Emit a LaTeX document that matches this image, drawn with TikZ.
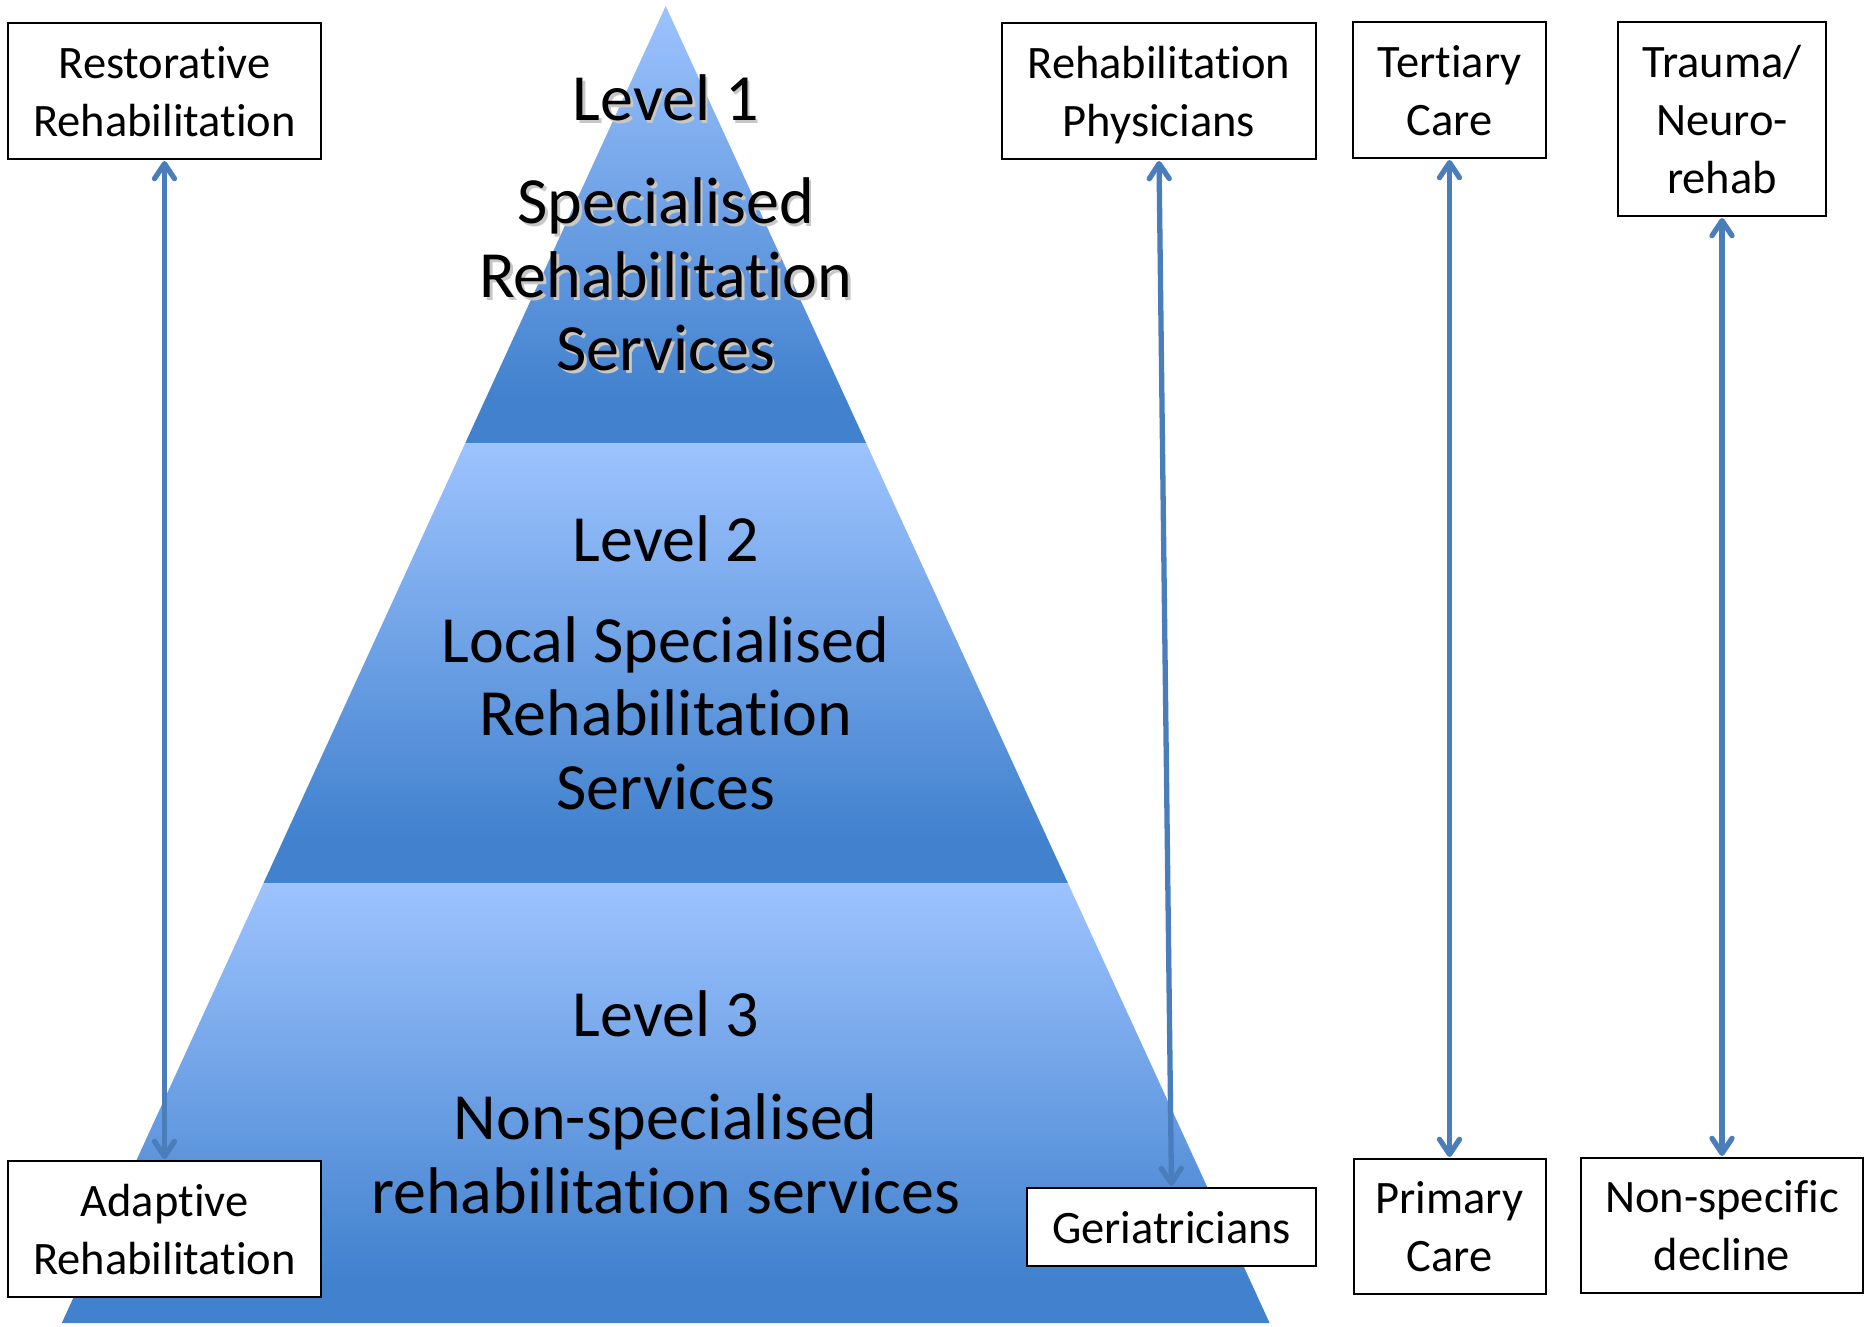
\documentclass[tikz,border=0pt]{standalone}
\usepackage{fontspec}
\setmainfont{Carlito}[Ligatures={NoCommon,NoContextual,NoRare,NoRequired},Contextuals={NoAlternate}]
\usetikzlibrary{arrows.meta}

\definecolor{bandlight}{RGB}{157,195,254}
\definecolor{banddark}{RGB}{65,129,206}
\definecolor{linkblue}{RGB}{74,126,187}
\pgfdeclareverticalshading{band}{100bp}{color(0bp)=(banddark); color(25bp)=(banddark); color(30bp)=(banddark); color(75bp)=(bandlight); color(100bp)=(bandlight)}

\tikzset{
    box/.style={draw=black, line width=2pt, fill=white, align=center, inner sep=0pt,
        text depth=0pt, font=\fontsize{46.5}{58}\selectfont},
    level/.style={align=center, font=\fontsize{66}{73.5}\selectfont},
    link/.style={linkblue, line width=5.3pt, line cap=round,
        {Straight Barb[length=15pt,width=20pt,round]}-{Straight Barb[length=15pt,width=20pt,round]},
        shorten <=1pt, shorten >=1pt}
}

\begin{document}
\begin{tikzpicture}[x=1pt,y=-1pt]
    \useasboundingbox (0,0) rectangle (1864,1326);

    % pyramid bands
    \shade[shading=band] (665.7,6) -- (465.1,443.4) -- (866.3,443.4) -- cycle;
    \shade[shading=band] (465.1,443.4) -- (263.4,883.3) -- (1068,883.3) -- (866.3,443.4) -- cycle;
    \shade[shading=band] (263.4,883.3) -- (61.8,1323) -- (1269.6,1323) -- (1068,883.3) -- cycle;

    % level texts
    \node[level, text=black!22] (l1shadowa) at (668.5,100.5) {Level 1};
    \node[level, text=black!22] (l1shadowb) at (668.5,277.6) {Specialised\\Rehabilitation\\Services};
    \node[level] (l1title) at (665.7,97.5) {Level 1};
    \node[level] (l1text) at (665.7,274.6) {Specialised\\Rehabilitation\\Services};
    \node[level] (l2title) at (665.7,538.5) {Level 2};
    \node[level] (l2text) at (665.7,713.3) {Local Specialised\\Rehabilitation\\Services};
    \node[level] (l3title) at (665.7,1014) {Level 3};
    \node[level] (l3text) at (665.7,1153.8) {Non-specialised\\rehabilitation services};

    % boxes
    \node[box, minimum width=313pt, minimum height=136pt] (restor) at (164.5,91) {Restorative\\Rehabilitation};
    \node[box, minimum width=313pt, minimum height=136pt] (adapt) at (164.5,1229) {Adaptive\\Rehabilitation};
    \node[box, minimum width=314pt, minimum height=136pt] (physic) at (1159,91) {Rehabilitation\\Physicians};
    \node[box, minimum width=289pt, minimum height=78pt] (geriat) at (1171.5,1227) {Geriatricians};
    \node[box, minimum width=193pt, minimum height=136pt] (tertiary) at (1449.5,90) {Tertiary\\Care};
    \node[box, minimum width=192pt, minimum height=135pt] (primary) at (1449.5,1226.5) {Primary\\Care};
    \node[box, minimum width=208pt, minimum height=194pt] (trauma) at (1722,119) {Trauma/\\Neuro-\\rehab};
    \node[box, minimum width=282pt, minimum height=135pt] (nonspec) at (1722,1225.5) {Non-specific\\decline};

    % links
    \draw[link] (restor.south) -- (adapt.north);
    \draw[link] (physic.south) -- (geriat.north);
    \draw[link] (tertiary.south) -- (primary.north);
    \draw[link] (trauma.south) -- (nonspec.north);
\end{tikzpicture}
\end{document}
